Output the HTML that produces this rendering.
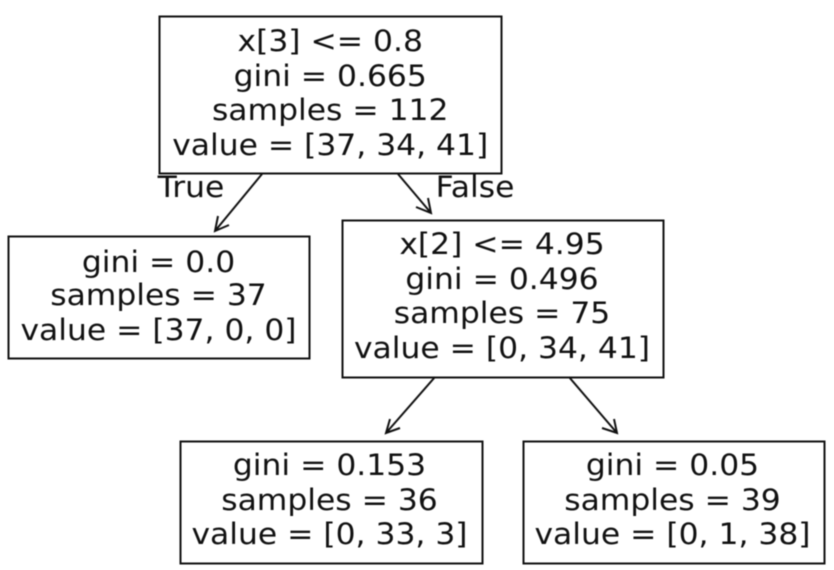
<!DOCTYPE html>
<html>
<head>
<meta charset="utf-8">
<style>
html,body{margin:0;padding:0;background:#fff;width:834px;height:570px;overflow:hidden}
svg{display:block;filter:blur(0.45px)}
text{font-family:"DejaVu Sans",sans-serif;font-size:29.5px;fill:#111;text-anchor:middle}
rect{fill:#fff;stroke:#111;stroke-width:2}
path{fill:none;stroke:#111;stroke-width:2}
</style>
</head>
<body>
<svg width="834" height="570" viewBox="0 0 834 570" xmlns="http://www.w3.org/2000/svg">
<rect x="159.5" y="16.5" width="342" height="157"/>
<g transform="translate(330.2 0) scale(1.064 1)">
<text x="0" y="51">x[3] &lt;= 0.8</text>
<text x="0" y="86">gini = 0.665</text>
<text x="0" y="120">samples = 112</text>
<text x="0" y="155">value = [37, 34, 41]</text>
</g>

<rect x="8.5" y="236.5" width="301" height="122"/>
<g transform="translate(158.5 0) scale(1.064 1)">
<text x="0" y="272">gini = 0.0</text>
<text x="0" y="305">samples = 37</text>
<text x="0" y="340">value = [37, 0, 0]</text>
</g>

<rect x="342.5" y="220.5" width="321" height="157"/>
<g transform="translate(502 0) scale(1.064 1)">
<text x="0" y="254">x[2] &lt;= 4.95</text>
<text x="0" y="289">gini = 0.496</text>
<text x="0" y="323">samples = 75</text>
<text x="0" y="358">value = [0, 34, 41]</text>
</g>

<rect x="180.5" y="441.5" width="302" height="122"/>
<g transform="translate(329.5 0) scale(1.064 1)">
<text x="0" y="475">gini = 0.153</text>
<text x="0" y="510">samples = 36</text>
<text x="0" y="544">value = [0, 33, 3]</text>
</g>

<rect x="523.5" y="441.5" width="301" height="122"/>
<g transform="translate(672.5 0) scale(1.064 1)">
<text x="0" y="475">gini = 0.05</text>
<text x="0" y="510">samples = 39</text>
<text x="0" y="544">value = [0, 1, 38]</text>
</g>

<path d="M262 174L215 231M218 216L215 231L229 225"/>
<path d="M398 174L431 213M416 207L431 213L428 198"/>
<path d="M435 377L386 433M390 419L386 433L400 428"/>
<path d="M569 377L617 433M602 428L617 433L614 419"/>

<g transform="translate(191 0) scale(1.064 1)"><text x="0" y="197">True</text></g>
<g transform="translate(475 0) scale(1.064 1)"><text x="0" y="197">False</text></g>
</svg>
</body>
</html>
